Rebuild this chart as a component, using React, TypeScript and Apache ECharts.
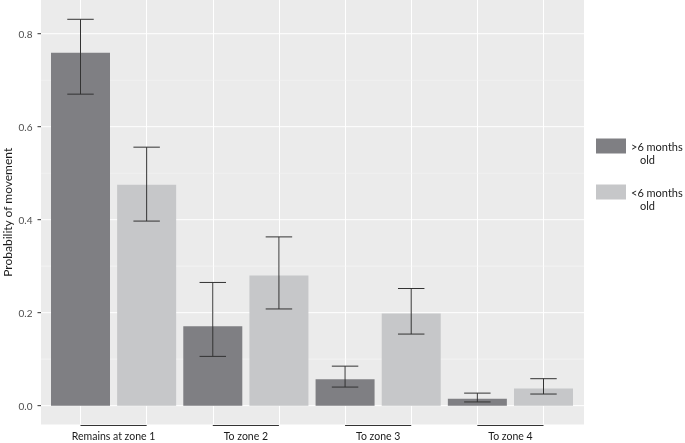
import React, { useEffect, useRef } from "react";
import * as echarts from "echarts";

const groups = ["Remains at zone 1", "To zone 2", "To zone 3", "To zone 4"];
const seriesNames = [">6 months old", "<6 months old"];
const olderMean = [0.759, 0.171, 0.057, 0.015];
const olderLow = [0.67, 0.106, 0.04, 0.008];
const olderHigh = [0.831, 0.265, 0.085, 0.027];
const youngerMean = [0.475, 0.28, 0.198, 0.037];
const youngerLow = [0.397, 0.208, 0.154, 0.025];
const youngerHigh = [0.556, 0.363, 0.252, 0.058];
const yMajorTicks = [0, 0.2, 0.4, 0.6, 0.8];
const yMinorTicks = [0.1, 0.3, 0.5, 0.7];

const Y_MIN = -0.0405;
const Y_MAX = 0.8725;
const FONT = "Lato";
const PANEL_LEFT_PAD = 39.5;
const PANEL_RIGHT_PAD = 40.5;

export default function App() {
  const ref = useRef<HTMLDivElement>(null);
  useEffect(() => {
    if (!ref.current) return;
    const chart = echarts.init(ref.current, null, { renderer: "svg" });

    const slots: string[] = [];
    groups.forEach((g) => {
      slots.push(g + " | " + seriesNames[0]);
      slots.push(g + " | " + seriesNames[1]);
    });
    const olderBars: any[] = [];
    const youngerBars: any[] = [];
    groups.forEach((_, i) => {
      olderBars.push(olderMean[i], "-");
      youngerBars.push("-", youngerMean[i]);
    });
    const errRows = [
      ...olderMean.map((_, i) => [2 * i, olderLow[i], olderHigh[i]]),
      ...youngerMean.map((_, i) => [2 * i + 1, youngerLow[i], youngerHigh[i]]),
    ];
    const brackets = groups.map((_, i) => [2 * i, 2 * i + 1]);
    const lastSlot = slots.length - 1;

    const hLine = (width: number, color: string) => (params: any, api: any) => {
      const v = api.value(1);
      const a = api.coord([0, v]);
      const b = api.coord([lastSlot, v]);
      return {
        type: "line",
        shape: { x1: a[0] - PANEL_LEFT_PAD, y1: a[1], x2: b[0] + PANEL_RIGHT_PAD, y2: b[1] },
        style: { stroke: color, lineWidth: width },
      };
    };

    const legendText = { fontFamily: FONT, fontSize: 11, color: "#1a1a1a", lineHeight: 13 };

    chart.setOption({
      animation: false,
      grid: {
        left: 80.5,
        right: 685 - 543.5,
        top: 0,
        bottom: 443 - 424.5,
        show: false,
        containLabel: false,
        outerBoundsMode: "none",
      },
      graphic: [
        {
          type: "rect",
          z: -10,
          silent: true,
          shape: { x: 41, y: 0, width: 543, height: 424.5 },
          style: { fill: "#ebebeb" },
        },
      ],
      legend: {
        orient: "vertical",
        left: 596,
        top: 126.5,
        padding: 0,
        itemWidth: 30,
        itemHeight: 15,
        itemGap: 7,
        icon: "rect",
        data: seriesNames,
        formatter: (name: string) => {
          const parts = name.split(" ");
          return "{e| }\n{a|" + parts[0] + " " + parts[1] + "}\n{b|" + parts[2] + "}";
        },
        textStyle: {
          ...legendText,
          rich: {
            e: { ...legendText },
            a: { ...legendText },
            b: { ...legendText, padding: [0, 0, 0, 9] },
          },
        },
      },
      xAxis: {
        type: "category",
        data: slots,
        boundaryGap: false,
        axisLine: { show: false },
        axisTick: { show: false },
        axisLabel: { show: false },
        splitLine: { show: true, interval: 0, lineStyle: { color: "#ffffff", width: 1 } },
      },
      yAxis: {
        type: "value",
        min: Y_MIN,
        max: Y_MAX,
        splitNumber: 5,
        offset: PANEL_LEFT_PAD,
        name: "Probability of movement",
        nameLocation: "middle",
        nameGap: 28,
        nameMoveOverlap: false,
        nameTextStyle: { fontFamily: FONT, fontSize: 12, color: "#1a1a1a" },
        axisLine: { show: false },
        axisTick: { show: false },
        axisLabel: {
          showMinLabel: false,
          showMaxLabel: false,
          margin: 8.5,
          fontFamily: FONT,
          fontSize: 10,
          color: "#4d4d4d",
          formatter: (v: number) => v.toFixed(1),
        },
        splitLine: { show: false },
      },
      series: [
        {
          type: "custom",
          name: "minor",
          clip: false,
          silent: true,
          z: 1,
          data: yMinorTicks.map((v) => [0, v]),
          encode: { x: 0, y: 1 },
          renderItem: hLine(0.6, "#f7f7f7"),
        },
        {
          type: "custom",
          name: "major",
          clip: false,
          silent: true,
          z: 1,
          data: yMajorTicks.map((v) => [0, v]),
          encode: { x: 0, y: 1 },
          renderItem: hLine(1, "#ffffff"),
        },
        {
          type: "custom",
          name: "yticks",
          clip: false,
          silent: true,
          z: 1,
          data: yMajorTicks.map((v) => [0, v]),
          encode: { x: 0, y: 1 },
          renderItem: (params: any, api: any) => {
            const a = api.coord([0, api.value(1)]);
            const x = a[0] - PANEL_LEFT_PAD;
            return {
              type: "line",
              shape: { x1: x - 3.5, y1: a[1], x2: x, y2: a[1] },
              style: { stroke: "#333333", lineWidth: 1 },
            };
          },
        },
        {
          type: "bar",
          name: seriesNames[0],
          data: olderBars,
          barWidth: 59,
          barGap: "-100%",
          clip: false,
          z: 3,
          itemStyle: { color: "#7f7f83" },
        },
        {
          type: "bar",
          name: seriesNames[1],
          data: youngerBars,
          barWidth: 59,
          barGap: "-100%",
          clip: false,
          z: 3,
          itemStyle: { color: "#c6c7c9" },
        },
        {
          type: "custom",
          name: "errors",
          clip: false,
          silent: true,
          z: 4,
          data: errRows,
          encode: { x: 0, y: [1, 2] },
          renderItem: (params: any, api: any) => {
            const x = api.value(0);
            const lo = api.coord([x, api.value(1)]);
            const hi = api.coord([x, api.value(2)]);
            const step = api.coord([1, 0])[0] - api.coord([0, 0])[0];
            const hw = step * 0.2;
            const st = { stroke: "#333333", lineWidth: 1 };
            return {
              type: "group",
              children: [
                { type: "line", shape: { x1: hi[0], y1: hi[1], x2: lo[0], y2: lo[1] }, style: st },
                { type: "line", shape: { x1: hi[0] - hw, y1: hi[1], x2: hi[0] + hw, y2: hi[1] }, style: st },
                { type: "line", shape: { x1: lo[0] - hw, y1: lo[1], x2: lo[0] + hw, y2: lo[1] }, style: st },
              ],
            };
          },
        },
        {
          type: "custom",
          name: "groups",
          clip: false,
          silent: true,
          z: 4,
          data: brackets,
          encode: { x: [0, 1] },
          renderItem: (params: any, api: any) => {
            const a = api.coord([api.value(0), Y_MIN]);
            const b = api.coord([api.value(1), Y_MIN]);
            const y = a[1] + 1;
            return {
              type: "group",
              children: [
                {
                  type: "line",
                  shape: { x1: a[0], y1: y, x2: b[0], y2: y },
                  style: { stroke: "#333333", lineWidth: 1 },
                },
                {
                  type: "text",
                  x: (a[0] + b[0]) / 2,
                  y: y + 10,
                  style: {
                    text: groups[params.dataIndex],
                    fontFamily: FONT,
                    fontSize: 10.5,
                    fill: "#1a1a1a",
                    align: "center",
                    verticalAlign: "middle",
                  },
                },
              ],
            };
          },
        },
      ],
    });
    return () => chart.dispose();
  }, []);
  return (
    <div
      ref={ref}
      style={{ position: "fixed", left: 0, top: 0, width: 685, height: 443 }}
    />
  );
}
